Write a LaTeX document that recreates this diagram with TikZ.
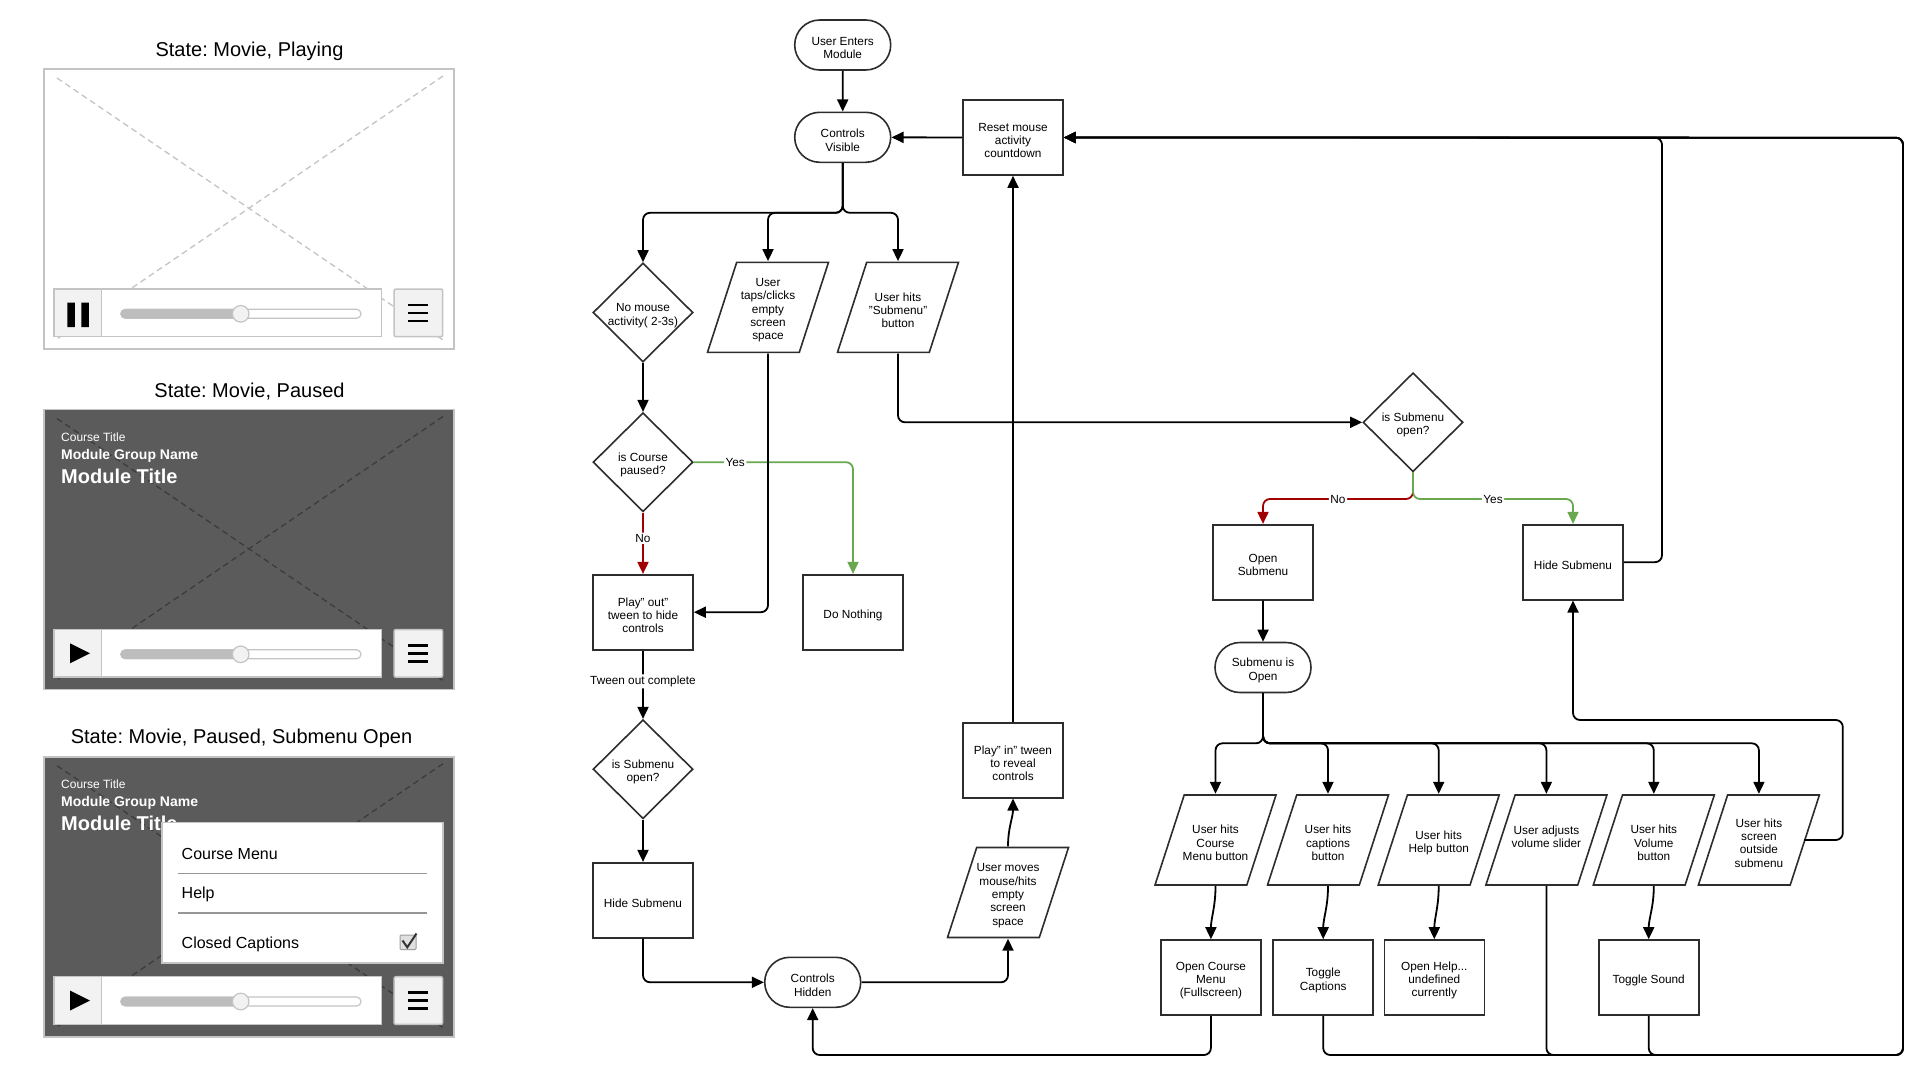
\documentclass[tikz,border=0pt]{standalone}
\usepackage{fontspec}
\setmainfont{Liberation Sans}
\frenchspacing
\usetikzlibrary{shapes.geometric,shapes.misc,arrows.meta,calc}
\definecolor{fgray}{RGB}{196,196,196}
\definecolor{dark}{RGB}{45,45,45}
\definecolor{pane}{RGB}{91,91,91}
\definecolor{pdiag}{RGB}{60,60,60}
\definecolor{btn}{RGB}{242,242,242}
\definecolor{track}{RGB}{189,189,189}
\definecolor{yesg}{RGB}{106,168,79}
\definecolor{nor}{RGB}{160,0,0}
\definecolor{sepg}{RGB}{150,150,150}
\newcommand\fcf{\fontsize{11.8}{13.3}\selectfont}
\newcommand\fs{\rule{0pt}{14.3pt}}
\newcommand\mvframe[4]{%
\begin{scope}[shift={(0,#1)}]
  \fill[#2] (44,0) rectangle (454,280);
  \draw[#3, dash pattern=on 6pt off 4pt, line width=1.3pt] (57,9) -- (443,271) (443,7) -- (57,270);
  \draw[fgray, line width=1.6pt] (44,0) rectangle (454,280);
  \draw[fgray, line width=1.5pt, fill=white] (54,220) rectangle (381.7,267.7);
  \draw[fgray, line width=1.5pt, fill=btn] (54,220) rectangle (101.7,267.7);
  #4
  \draw[fgray, line width=1.2pt, fill=white, rounded corners=4.5pt] (120.7,240.3) rectangle (361,249.3);
  \fill[track, rounded corners=4.5pt] (120.7,240.3) rectangle (240.7,249.3);
  \draw[fgray, line width=1.2pt, fill=btn] (240.7,244.8) circle[radius=8.3];
  \draw[fgray, line width=1.5pt, fill=btn, rounded corners=2pt] (394,220) rectangle (442.7,267.7);
  \draw[black, line width=2.6pt] (408.3,235.8) -- (428.3,235.8) (408.3,243.8) -- (428.3,243.8) (408.3,251.8) -- (428.3,251.8);
\end{scope}}
\newcommand\pauseicon{\fill[black] (67.3,233.5) rectangle (74.8,258) (81.3,233.5) rectangle (88.8,258);}
\newcommand\playicon{\fill[black] (70,233.8) -- (90,243.8) -- (70,253.8) -- cycle;}
\newcommand\titletexts{%
  \node[anchor=west, white, font=\fontsize{12}{14}\selectfont, inner sep=0pt] at (61,27.5) {Course Title};
  \node[anchor=west, white, font=\fontsize{14}{16}\bfseries, inner sep=0pt] at (61,46) {Module Group Name};
  \node[anchor=west, white, font=\fontsize{20}{22}\bfseries, inner sep=0pt] at (61,67) {Module Title};}
\begin{document}
\begin{tikzpicture}[x=1pt,y=-1pt,
  box/.style={draw=dark, line width=1.6pt, fill=white, rectangle, minimum width=100pt, minimum height=75pt, inner sep=2pt, align=center, font=\fcf},
  term/.style={draw=dark, line width=1.6pt, fill=white, rounded rectangle, minimum width=100pt, minimum height=50pt, inner sep=2pt, align=center, font=\fcf},
  dec/.style={draw=dark, line width=1.6pt, fill=white, diamond, minimum width=100pt, minimum height=99pt, inner sep=0pt},
  io/.style={rectangle, minimum width=123pt, minimum height=92pt, inner sep=0pt, font=\fcf, align=center,
    path picture={\path[draw=dark, line width=1.6pt, fill=white]
      ([shift={(30.2,1)}]path picture bounding box.north west) --
      ([shift={(-1,1)}]path picture bounding box.north east) --
      ([shift={(-30.2,-1)}]path picture bounding box.south east) --
      ([shift={(1,-1)}]path picture bounding box.south west) -- cycle;}},
  txt/.style={font=\fcf, align=center, inner sep=0pt},
  conn/.style={line width=1.8pt, black, rounded corners=7pt, -{Triangle[length=12pt,width=11pt]}},
  lbl/.style={font=\fcf, fill=white, inner sep=1.5pt},
  ttl/.style={font=\fontsize{20}{22}\selectfont, inner sep=0pt},
  menu/.style={anchor=west, inner sep=0pt, font=\fontsize{16}{18}\selectfont}]
\useasboundingbox (0,0) rectangle (1929,1081);

% ---------------- left: player states ----------------
\node[ttl] (t1) at (249.5,51) {State: Movie, Playing};
\mvframe{69}{white}{fgray}{\pauseicon}
\node[ttl] (t2) at (249.5,391.3) {State: Movie, Paused};
\mvframe{409.5}{pane}{pdiag}{\playicon\titletexts}
\node[ttl] (t3) at (241.5,738) {State: Movie, Paused, Submenu Open};
\mvframe{756.7}{pane}{pdiag}{\playicon\titletexts}
% submenu panel
\draw[fgray, line width=1.6pt, fill=white] (161.7,822.3) rectangle (442.7,962.7);
\node[menu] (m1) at (181.5,854) {Course Menu};
\node[menu] (m2) at (181.5,894) {Help};
\node[menu] (m3) at (181.5,944) {Closed Captions};
\draw[sepg, line width=1.6pt] (177.7,873.3) -- (426.7,873.3) (177.7,912.7) -- (426.7,912.7);
\draw[fgray!80!black, line width=1pt, fill=black!12, rounded corners=1pt] (400,935) rectangle (416,949.5);
\draw[black!80, line width=2pt] (402.5,940.5) -- (407.3,947.3) -- (416.5,933.5);

% ---------------- flowchart nodes ----------------
\node[term] (uem) at (842.7,45) {\fs User Enters\\Module};
\node[term] (cv) at (842.7,137.3) {\fs Controls\\Visible};
\node[box] (reset) at (1013,137.5) {\fs Reset mouse\\activity\\countdown};
\node[dec, label={[txt]center:{\fs No mouse\\activity( 2-3s)}}] (nm) at (643,312.5) {};
\node[io] (ut) at (768,307.3) {\fs User\\taps/clicks\\empty\\screen\\space};
\node[io] (uhs) at (898,307.3) {\fs User hits\\"Submenu"\\button};
\node[dec, label={[txt]center:{\fs is Course\\paused?}}] (icp) at (643,462.2) {};
\node[box] (po) at (643,612.2) {\fs Play" out"\\tween to hide\\controls};
\node[box] (dn) at (853,612.2) {\fs Do Nothing};
\node[dec, label={[txt]center:{\fs is Submenu\\open?}}] (is1) at (643,769.2) {};
\node[box] (hs1) at (643,900.2) {\fs Hide Submenu};
\node[term] (ch) at (812.7,982.3) {\fs Controls\\Hidden};
\node[io] (um) at (1008,892.5) {\fs User moves\\mouse/hits\\empty\\screen\\space};
\node[box] (pi) at (1013,760.2) {\fs Play" in" tween\\to reveal\\controls};
\node[dec, label={[txt]center:{\fs is Submenu\\open?}}] (is2) at (1413,422.3) {};
\node[box] (os) at (1263,562.2) {\fs Open\\Submenu};
\node[box] (hs2) at (1573,562.2) {\fs Hide Submenu};
\node[term] (so) at (1263,667.5) {\fs Submenu is\\Open};
\node[io] (p1) at (1215.5,840) {\fs User hits\\Course\\Menu button};
\node[io] (p2) at (1328,840) {\fs User hits\\captions\\button};
\node[io] (p3) at (1438.7,840) {\fs User hits\\Help button};
\node[io, label={[txt,yshift=6pt]center:{\fs User adjusts\\volume slider}}] (p4) at (1546.4,840) {};
\node[io] (p5) at (1653.8,840) {\fs User hits\\Volume\\button};
\node[io] (p6) at (1758.9,840) {\fs User hits\\screen\\outside\\submenu};
\node[box] (ocm) at (1210.9,977.5) {\fs Open Course\\Menu\\(Fullscreen)};
\node[box] (tc) at (1323.2,977.5) {\fs Toggle\\Captions};
\node[box] (oh) at (1434.3,977.5) {\fs Open Help...\\undefined\\currently};
\node[box] (ts) at (1648.7,977.5) {\fs Toggle Sound};

% ---------------- helper coordinates ----------------
\coordinate (br1) at (842.7,212.8);
\coordinate (br2) at (1263,743.3);
\coordinate (sp2) at (1413,499);
\coordinate (topA) at (1662,137.7);
\coordinate (topB) at (1903,137.7);
\coordinate (botB) at (1903,1055);
\coordinate (chb) at (812.7,1055);
\coordinate (outR) at (1842.8,720);
\coordinate (p6r) at ($(p6.center)+(45.5,0)$);

% ---------------- connectors ----------------
\draw[conn] (uem) -- (cv);
\draw[conn] (reset) -- (cv);
\draw[conn] (cv.south) -- (br1) -| (nm.north);
\draw[conn] (cv.south) -- (br1) -| (ut.north);
\draw[conn] (cv.south) -- (br1) -| (uhs.north);
\draw[conn] (nm) -- (icp);
\draw[conn, yesg] (icp.east) -| (dn.north) node[lbl, pos=0.13, text=black] {Yes};
\draw[conn, nor] (icp.south) -- (po.north) node[lbl, pos=0.42, text=black] {No};
\draw[conn] (ut.south) |- (po.east);
\draw[conn] (po.south) -- (is1.north) node[lbl, pos=0.45] {Tween out complete};
\draw[conn] (is1) -- (hs1);
\draw[conn] (hs1.south) |- (ch.west);
\draw[conn] (ch.east) -| (um.south);
\draw[conn] (um.north) to[out=90,in=-90] (pi.south);
\draw[conn] (pi.north) -- (reset.south);
\draw[conn] (uhs.south) |- (is2.west);
\draw[conn, nor] (is2.south) -- (sp2) -| (os.north) node[lbl, pos=0.25, text=black] {No};
\draw[conn, yesg] (is2.south) -- (sp2) -| (hs2.north) node[lbl, pos=0.25, text=black] {Yes};
\draw[conn] (os) -- (so);
\foreach \p in {p1,p2,p3,p4,p5,p6}{
  \draw[conn] (so.south) -- (br2) -| (\p.north);
}
\draw[conn] (hs2.east) -| (topA) -- (reset.east);
\draw[conn] (p1.south) to[out=-90,in=90] (ocm.north);
\draw[conn] (p2.south) to[out=-90,in=90] (tc.north);
\draw[conn] (p3.south) to[out=-90,in=90] (oh.north);
\draw[conn] (p5.south) to[out=-90,in=90] (ts.north);
\draw[conn] (ocm.south) |- (chb) -- (ch.south);
\draw[conn] (tc.south) |- (botB) -- (topB) -- (reset.east);
\draw[conn] (p4.south) |- (botB) -- (topB) -- (reset.east);
\draw[conn] (ts.south) |- (botB) -- (topB) -- (reset.east);
\draw[conn] (p6r) -| (outR) -| (hs2.south);
\end{tikzpicture}
\end{document}
